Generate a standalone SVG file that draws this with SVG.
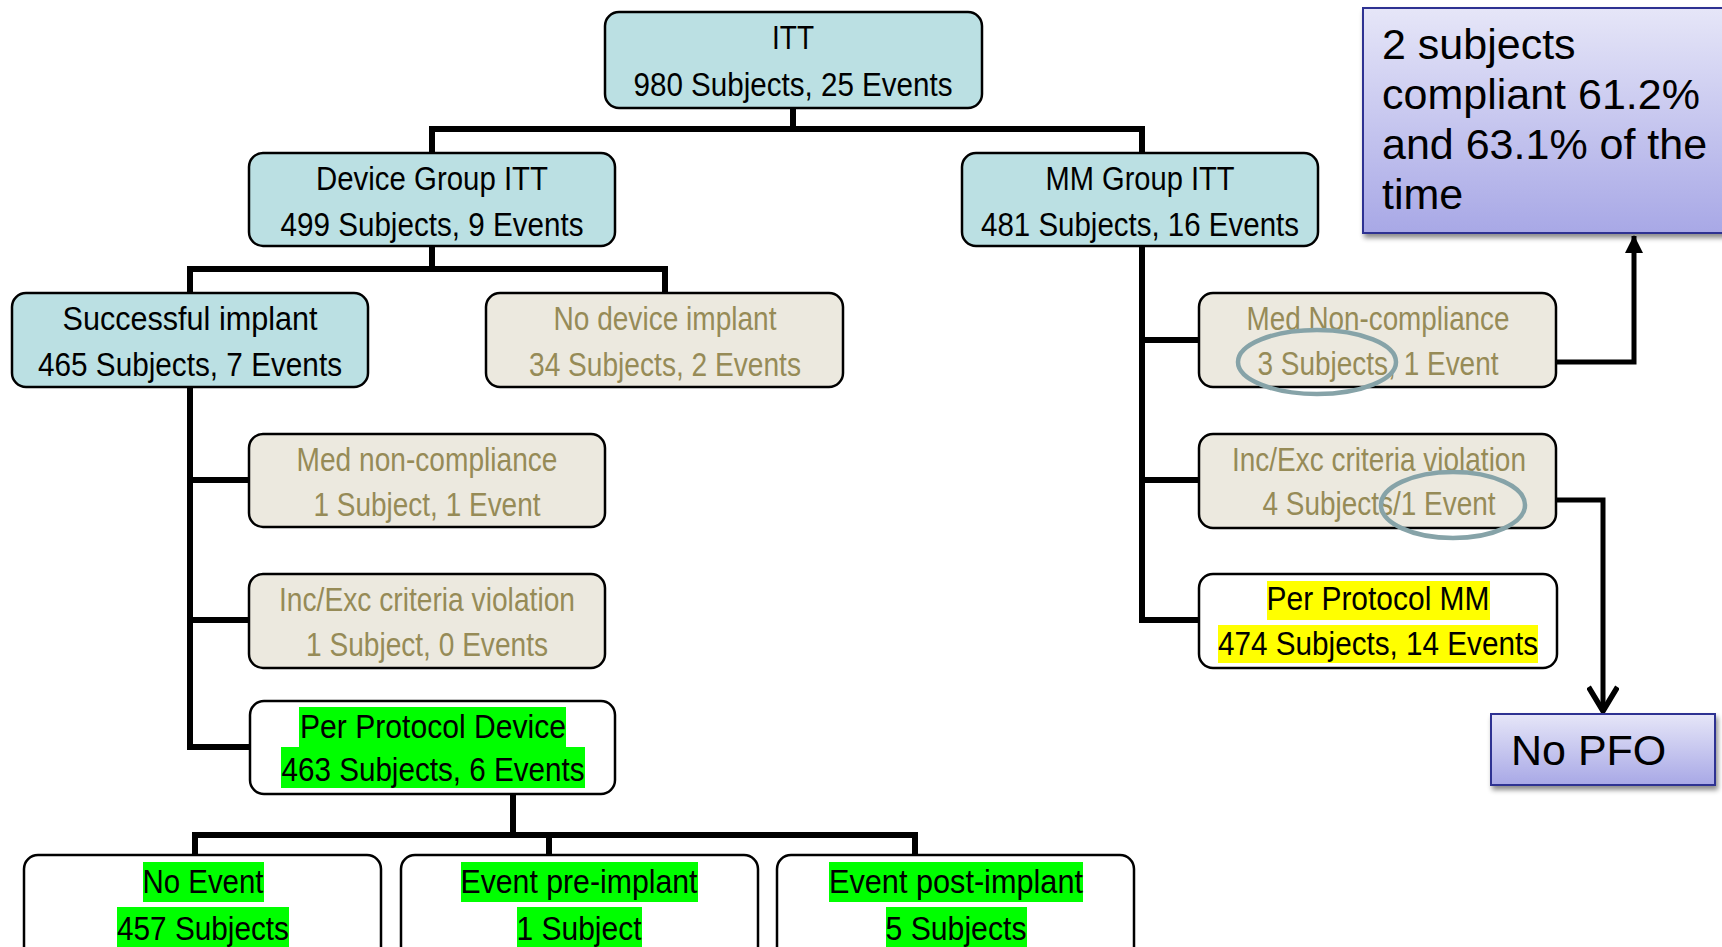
<svg xmlns="http://www.w3.org/2000/svg" width="1722" height="947" viewBox="0 0 1722 947">
  <defs>
    <style>
      .box { stroke: #000; stroke-width: 2.5; }
      .teal { fill: #bbe0e3; }
      .beige { fill: #ece9df; }
      .plain { fill: #fff; }
      .t { font-family: "Liberation Sans Narrow", "Liberation Sans", Arial, sans-serif; font-size: 33px; text-anchor: middle; fill: #000; }
      .muted { fill: #968b57; }
      .wire { fill: none; stroke: #000; stroke-width: 6; stroke-linecap: square; stroke-linejoin: miter; }
      .link { fill: none; stroke: #000; stroke-width: 5; }
      .ring { fill: none; stroke: #86a3a8; stroke-width: 4.5; }
      .hl-g { fill: #00ff00; }
      .hl-y { fill: #ffff00; }
      .note { font-family: "Liberation Sans", Arial, sans-serif; font-size: 43px; fill: #000; }
      .callout { fill: url(#lav); stroke: #2e3192; stroke-width: 2; }
    </style>
    <linearGradient id="lav" x1="0" y1="0" x2="0" y2="1">
      <stop offset="0" stop-color="#e6e6f8"/>
      <stop offset="1" stop-color="#a8a8e6"/>
    </linearGradient>
    <filter id="shadow" x="-10%" y="-10%" width="120%" height="130%">
      <feDropShadow dx="2" dy="4" stdDeviation="2.5" flood-color="#000" flood-opacity="0.45"/>
    </filter>
    <!-- solid triangular head -->
    <marker id="headSolid" viewBox="0 0 18 18" refX="17" refY="9" markerWidth="18" markerHeight="18" orient="auto" markerUnits="userSpaceOnUse">
      <path d="M0,0 L18,9 L0,18 Z" fill="#000"/>
    </marker>
    <!-- open chevron head -->
    <marker id="headOpen" viewBox="0 0 32 32" refX="29" refY="16" markerWidth="32" markerHeight="32" orient="auto" markerUnits="userSpaceOnUse">
      <path d="M5,1.5 L29,16 L5,30.5" fill="none" stroke="#000" stroke-width="5.5" stroke-linejoin="miter"/>
    </marker>
  </defs>

  <!-- tree connectors -->
  <g id="connectors">
    <path class="wire" d="M793,108 V129 M432,129 H1142 M432,129 V153 M1142,129 V153"/>
    <path class="wire" d="M432,246 V269 M190,269 H665 M190,269 V293 M665,269 V293"/>
    <path class="wire" d="M190,387 V747 H250 M190,480 H249 M190,620 H249"/>
    <path class="wire" d="M513,794 V835 M195,835 H915 M195,835 V855 M549,835 V855 M915,835 V855"/>
    <path class="wire" d="M1142,246 V620 H1198 M1142,340 H1198 M1142,480 H1198"/>
    <path class="link" d="M1397,362 H1634 V236" marker-end="url(#headSolid)"/>
    <path class="link" d="M1525,500 H1603 V711" marker-end="url(#headOpen)"/>
  </g>

  <g id="itt">
    <rect class="box teal" x="605" y="12" width="377" height="96" rx="14"/>
    <text class="t" x="793" y="49" textLength="42" lengthAdjust="spacingAndGlyphs">ITT</text>
    <text class="t" x="793" y="96" textLength="319" lengthAdjust="spacingAndGlyphs">980 Subjects, 25 Events</text>
  </g>

  <g id="device-itt">
    <rect class="box teal" x="249" y="153" width="366" height="93" rx="14"/>
    <text class="t" x="432" y="190" textLength="232" lengthAdjust="spacingAndGlyphs">Device Group ITT</text>
    <text class="t" x="432" y="236" textLength="303" lengthAdjust="spacingAndGlyphs">499 Subjects, 9 Events</text>
  </g>

  <g id="mm-itt">
    <rect class="box teal" x="962" y="153" width="356" height="93" rx="14"/>
    <text class="t" x="1140" y="190" textLength="189" lengthAdjust="spacingAndGlyphs">MM Group ITT</text>
    <text class="t" x="1140" y="236" textLength="318" lengthAdjust="spacingAndGlyphs">481 Subjects, 16 Events</text>
  </g>

  <g id="successful-implant">
    <rect class="box teal" x="12" y="293" width="356" height="94" rx="14"/>
    <text class="t" x="190" y="330" textLength="255" lengthAdjust="spacingAndGlyphs">Successful implant</text>
    <text class="t" x="190" y="376" textLength="304" lengthAdjust="spacingAndGlyphs">465 Subjects, 7 Events</text>
  </g>

  <g id="no-device-implant">
    <rect class="box beige" x="486" y="293" width="357" height="94" rx="14"/>
    <text class="t muted" x="665" y="330" textLength="223" lengthAdjust="spacingAndGlyphs">No device implant</text>
    <text class="t muted" x="665" y="376" textLength="272" lengthAdjust="spacingAndGlyphs">34 Subjects, 2 Events</text>
  </g>

  <g id="device-med-noncompliance">
    <rect class="box beige" x="249" y="434" width="356" height="93" rx="14"/>
    <text class="t muted" x="427" y="471" textLength="261" lengthAdjust="spacingAndGlyphs">Med non-compliance</text>
    <text class="t muted" x="427" y="516" textLength="227" lengthAdjust="spacingAndGlyphs">1 Subject, 1 Event</text>
  </g>

  <g id="device-incexc">
    <rect class="box beige" x="249" y="574" width="356" height="94" rx="14"/>
    <text class="t muted" x="427" y="611" textLength="296" lengthAdjust="spacingAndGlyphs">Inc/Exc criteria violation</text>
    <text class="t muted" x="427" y="656" textLength="242" lengthAdjust="spacingAndGlyphs">1 Subject, 0 Events</text>
  </g>

  <g id="per-protocol-device">
    <rect class="box plain" x="250" y="701" width="365" height="93" rx="14"/>
    <rect class="hl-g" x="299" y="707" width="267" height="40"/>
    <rect class="hl-g" x="281" y="747" width="304" height="41"/>
    <text class="t" x="433" y="738" textLength="266" lengthAdjust="spacingAndGlyphs">Per Protocol Device</text>
    <text class="t" x="433" y="781" textLength="303" lengthAdjust="spacingAndGlyphs">463 Subjects, 6 Events</text>
  </g>

  <g id="no-event">
    <rect class="box plain" x="24" y="855" width="357" height="120" rx="14"/>
    <rect class="hl-g" x="143" y="862" width="121" height="40"/>
    <rect class="hl-g" x="117" y="907" width="172" height="40"/>
    <text class="t" x="203" y="893" textLength="121" lengthAdjust="spacingAndGlyphs">No Event</text>
    <text class="t" x="203" y="940" textLength="172" lengthAdjust="spacingAndGlyphs">457 Subjects</text>
  </g>

  <g id="event-pre-implant">
    <rect class="box plain" x="401" y="855" width="357" height="120" rx="14"/>
    <rect class="hl-g" x="461" y="862" width="237" height="40"/>
    <rect class="hl-g" x="517" y="907" width="125" height="40"/>
    <text class="t" x="579" y="893" textLength="237" lengthAdjust="spacingAndGlyphs">Event pre-implant</text>
    <text class="t" x="579" y="940" textLength="125" lengthAdjust="spacingAndGlyphs">1 Subject</text>
  </g>

  <g id="event-post-implant">
    <rect class="box plain" x="777" y="855" width="357" height="120" rx="14"/>
    <rect class="hl-g" x="829" y="862" width="254" height="40"/>
    <rect class="hl-g" x="886" y="907" width="141" height="40"/>
    <text class="t" x="956" y="893" textLength="254" lengthAdjust="spacingAndGlyphs">Event post-implant</text>
    <text class="t" x="956" y="940" textLength="141" lengthAdjust="spacingAndGlyphs">5 Subjects</text>
  </g>

  <g id="mm-med-noncompliance">
    <rect class="box beige" x="1199" y="293" width="357" height="94" rx="14"/>
    <text class="t muted" x="1378" y="330" textLength="263" lengthAdjust="spacingAndGlyphs">Med Non-compliance</text>
    <text class="t muted" x="1378" y="375" textLength="241" lengthAdjust="spacingAndGlyphs">3 Subjects, 1 Event</text>
  </g>

  <g id="mm-incexc">
    <rect class="box beige" x="1199" y="434" width="357" height="94" rx="14"/>
    <text class="t muted" x="1379" y="471" textLength="294" lengthAdjust="spacingAndGlyphs">Inc/Exc criteria violation</text>
    <text class="t muted" x="1379" y="515" textLength="233" lengthAdjust="spacingAndGlyphs">4 Subjects/1 Event</text>
  </g>

  <g id="per-protocol-mm">
    <rect class="box plain" x="1199" y="574" width="358" height="94" rx="14"/>
    <rect class="hl-y" x="1267" y="581" width="223" height="39"/>
    <rect class="hl-y" x="1218" y="625" width="320" height="38"/>
    <text class="t" x="1378" y="610" textLength="223" lengthAdjust="spacingAndGlyphs">Per Protocol MM</text>
    <text class="t" x="1378" y="655" textLength="320" lengthAdjust="spacingAndGlyphs">474 Subjects, 14 Events</text>
  </g>

  <!-- highlight rings over the counts -->
  <g id="rings">
    <ellipse class="ring" cx="1317" cy="362" rx="79" ry="32"/>
    <ellipse class="ring" cx="1453" cy="505" rx="72" ry="33"/>
  </g>

  <g id="compliance-note">
    <rect class="callout" x="1363" y="8" width="370" height="225" filter="url(#shadow)"/>
    <text class="note" x="1382" y="59">2 subjects</text>
    <text class="note" x="1382" y="109">compliant 61.2%</text>
    <text class="note" x="1382" y="159">and 63.1% of the</text>
    <text class="note" x="1382" y="209">time</text>
  </g>

  <g id="no-pfo">
    <rect class="callout" x="1491" y="714" width="224" height="71" filter="url(#shadow)"/>
    <text class="note" x="1511" y="765">No PFO</text>
  </g>
</svg>
